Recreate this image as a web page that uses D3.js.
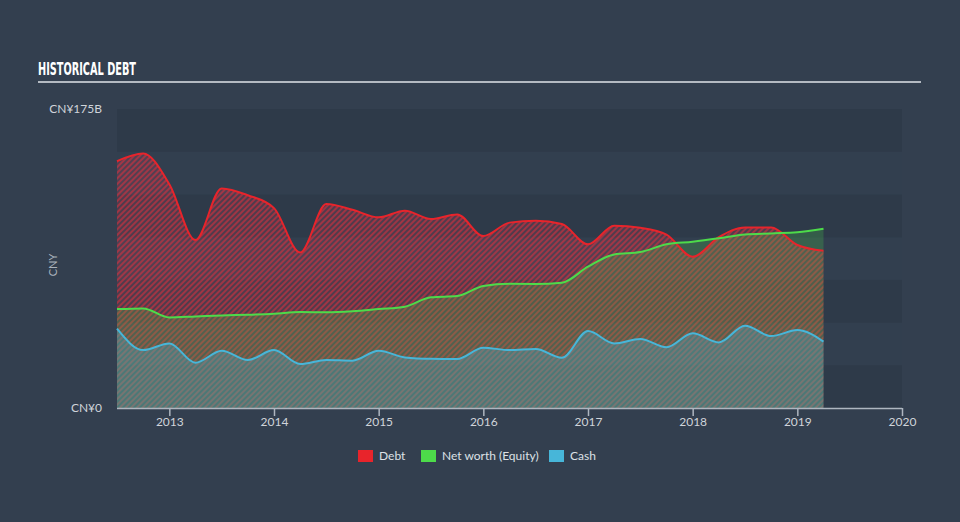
<!DOCTYPE html>
<html><head><meta charset="utf-8">
<script src="https://cdn.jsdelivr.net/npm/d3@7"></script>
<style>
html,body{margin:0;padding:0;background:#333f4f;}
svg{display:block;}
</style></head>
<body>
<svg id="chart" width="960" height="522"></svg>
<script>
const periods = [2012.5,2012.75,2013,2013.25,2013.5,2013.75,2014,2014.25,2014.5,2014.75,2015,2015.25,2015.5,2015.75,2016,2016.25,2016.5,2016.75,2017,2017.25,2017.5,2017.75,2018,2018.25,2018.5,2018.75,2019,2019.25];
const debt = [144.5,149,131,98.3,128.5,124.5,117,91,119.4,116,111.6,115.5,110.6,113.3,100.6,108.5,109.6,107.7,95.8,106.7,105.5,101.5,88.5,100,105.7,105.7,95.4,92];
const equity = [57.9,58.3,53,53.6,54.2,54.6,55.2,56.2,56,56.6,57.9,59.3,64.8,65.5,71.4,72.7,72.6,73.3,82.7,89.9,91.3,95.8,97.3,99.3,101.6,102.2,102.8,104.9];
const cash = [46.4,33.9,37.8,26.5,33.5,28.1,33.9,25.7,28.1,27.7,33.5,29.6,28.8,28.7,35.3,33.9,34.5,29.4,45,37.8,40.4,35.5,43.7,38.4,48.2,42.1,45.6,38.8];
const xTicks = [2013,2014,2015,2016,2017,2018,2019,2020];
const yTickLabels = ["CN¥0","CN¥175B"];
const yTickValues = [0,175];
const legendLabels = ["Debt","Net worth (Equity)","Cash"];

const svg = d3.select("#chart");
const L=117,R=902,T=109,B=408;
const x = d3.scaleLinear().domain([2012.5,2020]).range([L,R]);
const y = d3.scaleLinear().domain([0,175]).range([B,T]);

const colors = {debt:"#e8242b", equity:"#4ddb4a", cash:"#47b6d9"};

const defs = svg.append("defs");
const pat = defs.append("pattern").attr("id","hatchRed").attr("patternUnits","userSpaceOnUse")
  .attr("width",4).attr("height",4).attr("patternTransform","rotate(45)");
pat.append("rect").attr("x",0).attr("y",0).attr("width",4).attr("height",4).attr("fill","#d8405a").attr("opacity",0.2);
pat.append("rect").attr("x",0).attr("y",0).attr("width",2).attr("height",4).attr("fill","#e0303e").attr("opacity",0.55);

// title
svg.append("text").attr("x",38).attr("y",75).text("HISTORICAL DEBT")
  .attr("font-family","'Liberation Sans Narrow','DejaVu Sans Condensed',sans-serif").attr("font-weight","bold")
  .attr("font-size",17).attr("fill","#ffffff").attr("textLength",98).attr("lengthAdjust","spacingAndGlyphs");
svg.append("line").attr("x1",38).attr("x2",921).attr("y1",82).attr("y2",82).attr("stroke","#b4bac2").attr("stroke-width",2);

// bands
const bandVals = d3.range(0,175,25);
svg.append("g").selectAll("rect").data(bandVals).join("rect")
  .attr("x",L).attr("width",R-L)
  .attr("y",d=>y(d+25)).attr("height",d=>y(d)-y(d+25))
  .attr("fill",(d,i)=> ((6-i)%2===0) ? "#2e3a49" : "#323f4f");

const data = periods.map((p,i)=>({p, debt:debt[i], equity:equity[i], cash:cash[i]}));
const curve = d3.curveMonotoneX;
const area = k => d3.area().x(d=>x(d.p)).y0(y(0)).y1(d=>y(d[k])).curve(curve);
const line = k => d3.line().x(d=>x(d.p)).y(d=>y(d[k])).curve(curve);

svg.append("path").datum(data).attr("d",area("debt")).attr("fill","url(#hatchRed)");
svg.append("path").datum(data).attr("d",area("equity")).attr("fill",colors.equity).attr("fill-opacity",0.22);
svg.append("path").datum(data).attr("d",area("cash")).attr("fill",colors.cash).attr("fill-opacity",0.3);

svg.append("path").datum(data).attr("d",line("cash")).attr("fill","none").attr("stroke",colors.cash).attr("stroke-width",2);
svg.append("path").datum(data).attr("d",line("debt")).attr("fill","none").attr("stroke",colors.debt).attr("stroke-width",2);
svg.append("path").datum(data).attr("d",line("equity")).attr("fill","none").attr("stroke",colors.equity).attr("stroke-width",2);

// x axis
const xAxis = d3.axisBottom(x).tickValues(xTicks).tickFormat(d3.format("d")).tickSize(8).tickSizeOuter(0);
const gx = svg.append("g").attr("transform",`translate(0,${B})`).call(xAxis);
gx.select(".domain").attr("stroke","#aeb6c0").attr("stroke-width",1.5).attr("d",`M${L},0.5H${R}`);
gx.selectAll(".tick line").attr("stroke","#aeb6c0").attr("stroke-width",1.5);
gx.selectAll(".tick text").attr("fill","#d0d4da").attr("font-family","Lato, 'Open Sans', sans-serif").attr("font-size",12).attr("dy","0.55em");

// y labels
svg.append("g").selectAll("text").data(yTickValues).join("text")
  .attr("x",102).attr("y",d=>y(d)).attr("dy","0.35em").attr("text-anchor","end")
  .attr("fill","#d0d4da").attr("font-family","Lato, 'Open Sans', sans-serif").attr("font-size",12)
  .text((d,i)=>yTickLabels[i]);
svg.append("text").attr("transform","translate(53,265) rotate(-90)").attr("text-anchor","middle")
  .attr("dy","0.35em").attr("fill","#aab2bc").attr("font-family","Lato, 'Open Sans', sans-serif").attr("font-size",11).text("CNY");

// legend
const legendX = [358,421,549];
const legendCols = [colors.debt,colors.equity,colors.cash];
const lg = svg.append("g");
legendLabels.forEach((t,i)=>{
  lg.append("rect").attr("x",legendX[i]).attr("y",450).attr("width",15).attr("height",12).attr("fill",legendCols[i]);
  lg.append("text").attr("x",legendX[i]+21).attr("y",456).attr("dy","0.35em").attr("fill","#dde1e6")
    .attr("font-family","Lato, 'Open Sans', sans-serif").attr("font-size",12).text(t);
});
</script>
</body></html>
